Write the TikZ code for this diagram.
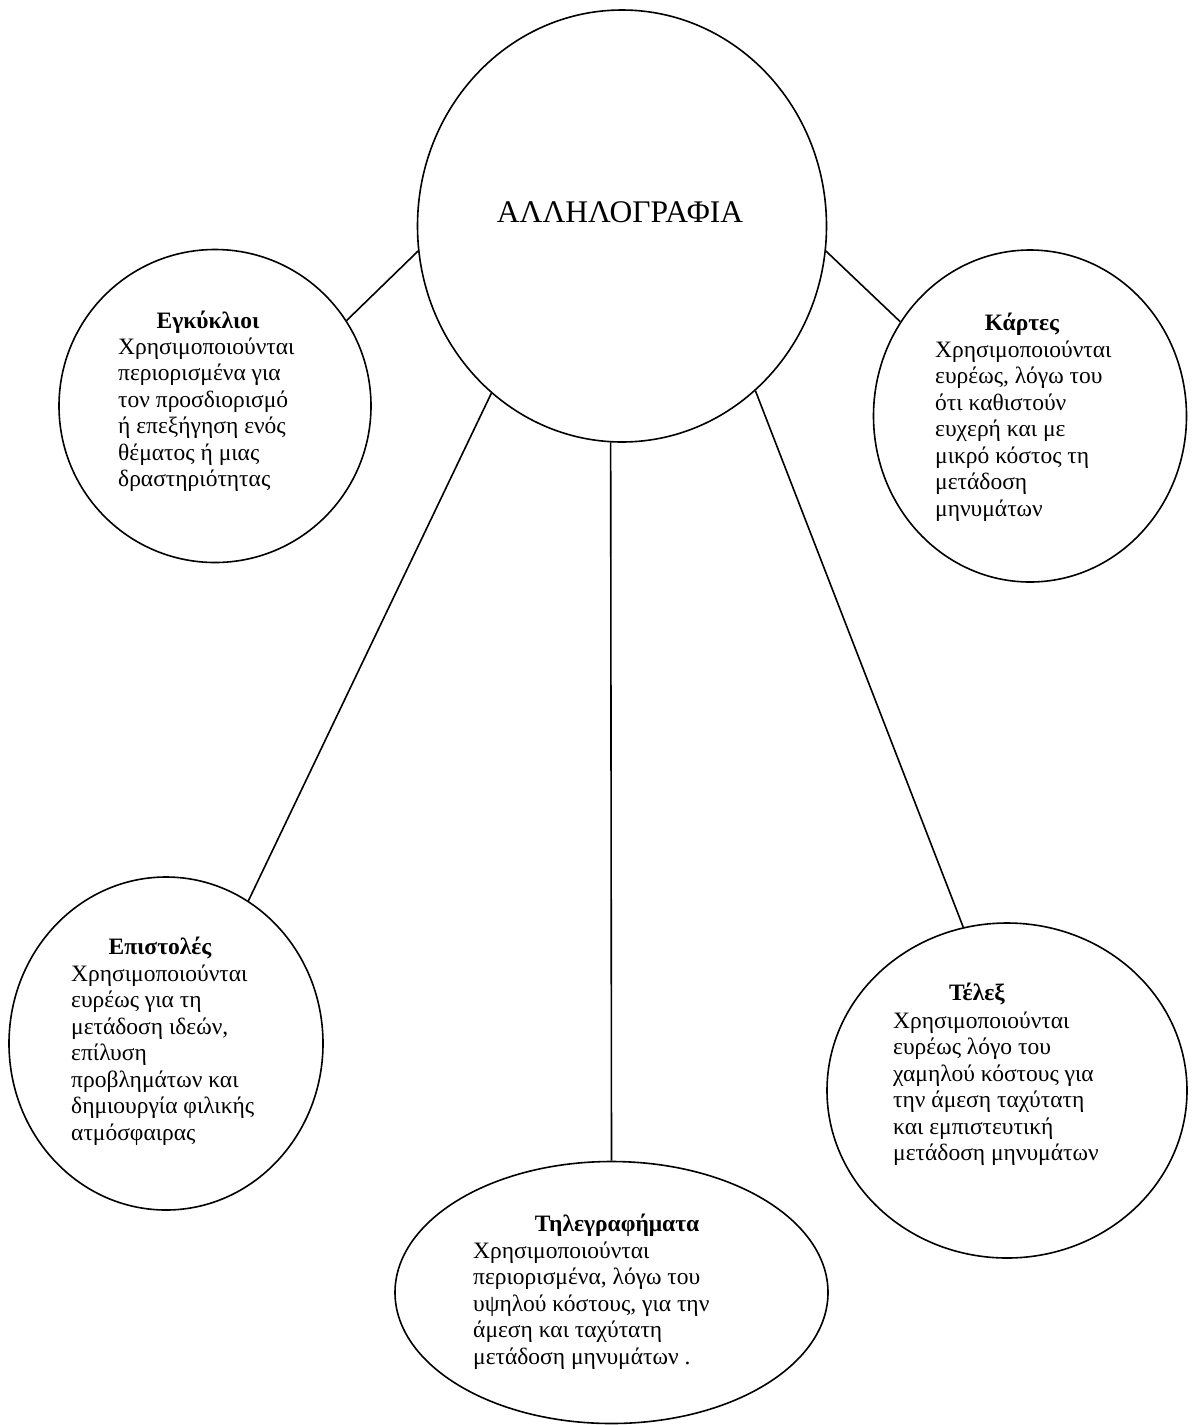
\documentclass[tikz,border=0pt]{standalone}
\usepackage{fontspec}
\setmainfont{Liberation Serif}
\usetikzlibrary{shapes.geometric}
\newcommand\tline[1]{\hbox{#1}}
\newcommand\bodyblock[1]{\vtop{\baselineskip=26.5pt\lineskiplimit=-1000pt\lineskip=0pt #1}}
\begin{document}
\begin{tikzpicture}[x=1pt,y=-1pt,
  ell/.style={draw,ellipse,inner sep=0pt,line width=1.6pt},
  conn/.style={line width=1.6pt},
  body/.style={inner sep=0pt,anchor=base west,font=\fontsize{23.5pt}{26.5pt}\selectfont},
  head/.style={inner sep=0pt,anchor=base,font=\fontsize{23.5pt}{26.5pt}\selectfont\bfseries},
  maintext/.style={inner sep=0pt,anchor=base,font=\fontsize{31.5pt}{36pt}\selectfont}]
\useasboundingbox (0,0) rectangle (1192,1425);
% shapes
\node[ell, minimum width=409pt, minimum height=432pt] (main) at (622,226) {};
\node[ell, minimum width=312pt, minimum height=313pt] (enk) at (215,406) {};
\node[ell, minimum width=313pt, minimum height=332pt] (kar) at (1030,416) {};
\node[ell, minimum width=314pt, minimum height=333pt] (epi) at (166,1043.5) {};
\node[ell, minimum width=360pt, minimum height=335pt] (tel) at (1007,1090.5) {};
\node[ell, minimum width=433pt, minimum height=262pt] (thl) at (611.5,1292.5) {};
% connectors
\draw[conn] (main.187) -- (enk.33);
\draw[conn] (main.353) -- (kar.144);
\draw[conn] (main.232) -- (epi.60);
\draw[conn] (main.267) -- (thl.north);
\draw[conn] (main.309) -- (tel.105);
% texts
\node[maintext] (mainT) at (620,222) {ΑΛΛΗΛΟΓΡΑΦΙΑ};

\node[head] (enkT) at (208,328) {Εγκύκλιοι};
\node[body] (enkB) at (118,354) {\bodyblock{\tline{Χρησιμοποιούνται}\tline{περιορισμένα για}\tline{τον προσδιορισμό}\tline{ή επεξήγηση ενός}\tline{θέματος ή μιας}\tline{δραστηριότητας}}};

\node[head] (karT) at (1022,330) {Κάρτες};
\node[body] (karB) at (935,357) {\bodyblock{\tline{Χρησιμοποιούνται}\tline{ευρέως, λόγω του}\tline{ότι καθιστούν}\tline{ευχερή και με}\tline{μικρό κόστος τη}\tline{μετάδοση}\tline{μηνυμάτων}}};

\node[head] (epiT) at (160,954) {Επιστολές};
\node[body] (epiB) at (71,981) {\bodyblock{\tline{Χρησιμοποιούνται}\tline{ευρέως για τη}\tline{μετάδοση ιδεών,}\tline{επίλυση}\tline{προβλημάτων και}\tline{δημιουργία φιλικής}\tline{ατμόσφαιρας}}};

\node[head] (telT) at (977,1000) {Τέλεξ};
\node[body] (telB) at (893,1028) {\bodyblock{\tline{Χρησιμοποιούνται}\tline{ευρέως λόγο του}\tline{χαμηλού κόστους για}\tline{την άμεση ταχύτατη}\tline{και εμπιστευτική}\tline{μετάδοση μηνυμάτων}}};

\node[head] (thlT) at (617,1231) {Τηλεγραφήματα};
\node[body] (thlB) at (473,1258) {\bodyblock{\tline{Χρησιμοποιούνται}\tline{περιορισμένα, λόγω του}\tline{υψηλού κόστους, για την}\tline{άμεση και ταχύτατη}\tline{μετάδοση μηνυμάτων .}}};
\end{tikzpicture}
\end{document}
